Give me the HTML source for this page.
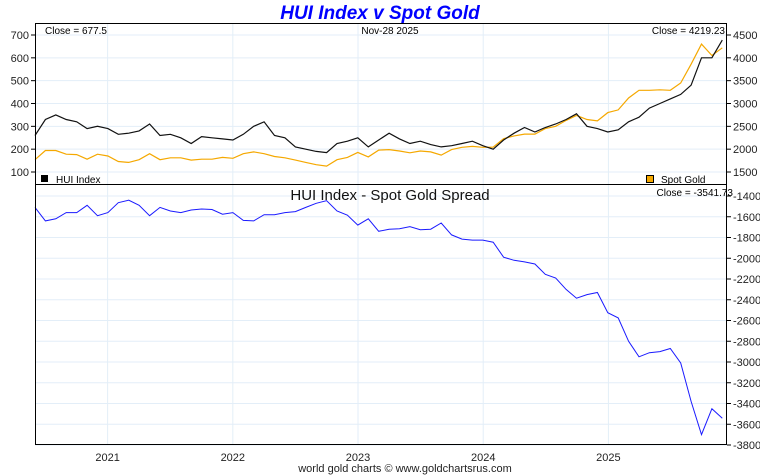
<!DOCTYPE html>
<html><head><meta charset="utf-8">
<style>
body{margin:0;background:#fff;font-family:"Liberation Sans",sans-serif;}
svg{display:block}
</style></head>
<body>
<svg id="chart" width="760" height="475">
<text x="380" y="19" text-anchor="middle" font-size="19" font-weight="bold" font-style="italic" fill="#0000ff">HUI Index v Spot Gold</text>
<g id="grid"></g>
<g id="lines"></g>
<rect x="35.5" y="23.5" width="691" height="421" fill="none" stroke="#000"/>
<line x1="35" y1="184.5" x2="727" y2="184.5" stroke="#000"/>
<g id="axes" font-size="11" fill="#222"></g>
<text x="45" y="34" font-size="10">Close = 677.5</text>
<text x="390" y="34" text-anchor="middle" font-size="10">Nov-28  2025</text>
<text x="725" y="34" text-anchor="end" font-size="10">Close = 4219.23</text>
<rect x="41" y="175" width="7" height="7" fill="#000"/>
<text x="56" y="183" font-size="10">HUI Index</text>
<rect x="646.5" y="175.5" width="7" height="7" fill="#f5a800" stroke="#000"/>
<text x="661" y="183" font-size="10">Spot Gold</text>
<text x="390" y="200" text-anchor="middle" font-size="15" fill="#111">HUI Index  -  Spot Gold Spread</text>
<text x="733" y="196" text-anchor="end" font-size="10">Close = -3541.73</text>
<text x="405" y="472" text-anchor="middle" font-size="11" fill="#222">world gold charts © www.goldchartsrus.com</text>
</svg>
<script>
const startYear = 2020.42;
const huiValues = [260,330,350,330,320,290,300,290,265,270,280,310,260,265,250,225,255,250,245,240,265,300,320,260,250,210,200,190,185,225,235,250,210,240,270,245,225,235,220,210,215,225,235,215,200,240,270,295,275,295,310,330,355,300,290,275,285,320,340,380,400,420,440,480,600,600,677.5];
const goldValues = [1770,1970,1970,1890,1880,1780,1890,1850,1730,1710,1770,1900,1770,1810,1810,1760,1780,1780,1820,1800,1900,1940,1900,1840,1810,1760,1710,1660,1630,1770,1820,1930,1830,1980,1990,1960,1920,1960,1940,1870,1990,2040,2060,2040,2045,2230,2290,2330,2330,2450,2500,2630,2740,2650,2620,2800,2860,3120,3290,3290,3300,3290,3450,3860,4300,4050,4219.23];
const hTicks = [100,200,300,400,500,600,700];
const gTicks = [1500,2000,2500,3000,3500,4000,4500];
const sTicks = [-1400,-1600,-1800,-2000,-2200,-2400,-2600,-2800,-3000,-3200,-3400,-3600,-3800];
const years = [2021,2022,2023,2024,2025];

const NS="http://www.w3.org/2000/svg";
const xS = t => 35 + (t - startYear)*125.2;
const yH = v => 35 + (700 - v)*137/600;
const yG = v => 35 + (4500 - v)*137/3000;
const yS = v => 196 + (-1400 - v)*249/2400;
const tOf = i => startYear + (2025.91 - startYear)*i/(huiValues.length-1);
function mk(tag, attrs, parent){const e=document.createElementNS(NS,tag);for(const k in attrs)e.setAttribute(k,attrs[k]);parent.appendChild(e);return e;}
const grid=document.getElementById('grid'), lines=document.getElementById('lines'), axes=document.getElementById('axes');
years.forEach(y=>{
  const l=mk('line',{x1:xS(y),x2:xS(y),y1:24,y2:445,stroke:'#e3eef8'},grid);
  
  
  const t=mk('text',{x:xS(y),y:461,'text-anchor':'middle'},axes);t.textContent=y;
  
  
});
hTicks.forEach(v=>{
  const l=mk('line',{x1:35,x2:727,y1:yH(v),y2:yH(v),stroke:'#e3eef8'},grid);
  
  
  mk('line',{x1:31,x2:35,y1:yH(v),y2:yH(v),stroke:'#000'},axes);
  const t=mk('text',{x:29,y:yH(v)+4,'text-anchor':'end'},axes);t.textContent=v;
  
  
});
gTicks.forEach(v=>{
  mk('line',{x1:727,x2:731,y1:yG(v),y2:yG(v),stroke:'#000'},axes);
  const t=mk('text',{x:733,y:yG(v)+4},axes);t.textContent=v;
  
  
});
sTicks.forEach(v=>{
  const l=mk('line',{x1:35,x2:727,y1:yS(v),y2:yS(v),stroke:'#e3eef8'},grid);
  
  
  mk('line',{x1:727,x2:731,y1:yS(v),y2:yS(v),stroke:'#000'},axes);
  const t=mk('text',{x:733,y:yS(v)+4},axes);t.textContent=v;
  
  
});
const gp=goldValues.map((v,i)=>xS(tOf(i)).toFixed(1)+','+yG(v).toFixed(1)).join(' ');
const hp=huiValues.map((v,i)=>xS(tOf(i)).toFixed(1)+','+yH(v).toFixed(1)).join(' ');
const sp=huiValues.map((v,i)=>xS(tOf(i)).toFixed(1)+','+yS(v-goldValues[i]).toFixed(1)).join(' ');
const g=mk('polyline',{points:gp,fill:'none',stroke:'#f5a800','stroke-width':1.2},lines);


const h=mk('polyline',{points:hp,fill:'none',stroke:'#111','stroke-width':1.2},lines);


const s=mk('polyline',{points:sp,fill:'none',stroke:'#1a1aff','stroke-width':1},lines);


</script>
</body></html>
